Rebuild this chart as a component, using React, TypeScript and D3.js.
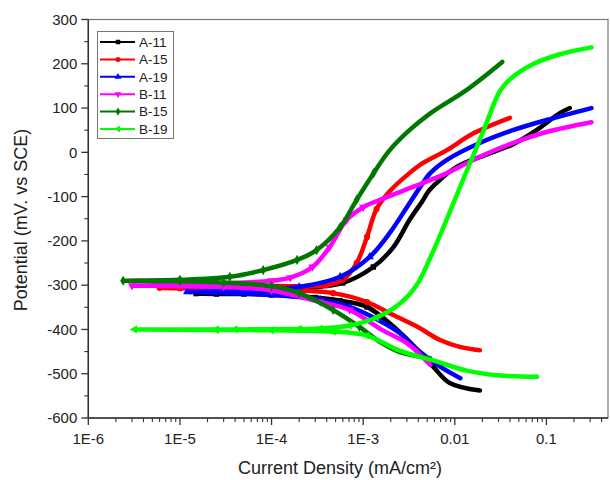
import React from "react";
import * as d3 from "d3";

// ---------- data (current density mA/cm², potential mV vs SCE), scan order ----------
const seriesNames = ["A-11", "A-15", "A-19", "B-11", "B-15", "B-19"];
const seriesColors = ["#000000", "#ff0000", "#0000ff", "#ff00ff", "#007800", "#00ff00"];

const a11I = [0.0188, 0.0088, 0.0058, 0.004, 0.0025, 0.0011, 5.6e-4, 3e-4, 1e-4, 5e-5, 2.5e-5, 1.5e-5, 2.5e-5, 5e-5, 1e-4, 2e-4, 6e-4, 1.29e-3, 2.14e-3, 3.2e-3, 4.5e-3, 5.3e-3, 0.0105, 0.0204, 0.043, 0.078, 0.139, 0.18];
const a11E = [-538, -521, -484, -448, -406, -349, -335, -328, -322, -320, -320, -319, -318, -317, -314, -308, -295, -259, -214, -153, -108, -85, -33, -8, 18, 50, 88, 100];

const a15I = [0.0188, 0.0116, 0.0069, 0.0039, 0.0021, 0.0011, 4.7e-4, 2e-4, 1e-4, 3e-5, 1e-5, 6e-6, 1e-5, 3e-5, 1e-4, 4e-4, 6e-4, 8.5e-4, 1.1e-3, 1.4e-3, 1.95e-3, 3.2e-3, 4.5e-3, 8.2e-3, 0.016, 0.04];
const a15E = [-447, -440, -424, -394, -367, -338, -318, -312, -310, -308, -307, -306, -305, -304, -302, -300, -288, -250, -191, -128, -88, -47, -24, 5, 43, 78];

const a19I = [0.0115, 0.0069, 0.0039, 0.0025, 0.0016, 7.1e-4, 3.4e-4, 1e-4, 4e-5, 2e-5, 1.2e-5, 2e-5, 5e-5, 1e-4, 2e-4, 5.6e-4, 1.18e-3, 1.95e-3, 3e-3, 4.2e-3, 5.4e-3, 8.2e-3, 0.0187, 0.043, 0.1, 0.31];
const a19E = [-510, -484, -446, -408, -383, -349, -333, -322, -318, -316, -315, -314, -312, -309, -304, -281, -236, -182, -124, -78, -47, -17, 21, 50, 73, 100];

const b11I = [0.0054, 0.003, 0.0016, 7.1e-4, 3.4e-4, 1e-4, 3e-5, 1e-5, 3e-6, 1e-5, 3e-5, 1e-4, 1.6e-4, 2.8e-4, 4.3e-4, 6.6e-4, 1e-3, 1.5e-3, 3.5e-3, 8.2e-3, 0.0187, 0.043, 0.1, 0.31];
const b11E = [-480, -431, -401, -356, -338, -312, -304, -302, -301, -299, -296, -290, -283, -259, -214, -153, -124, -108, -78, -47, -10, 21, 46, 68];

const b15I = [0.0054, 0.0025, 0.0016, 9.1e-4, 4.7e-4, 2e-4, 1e-4, 3e-5, 1e-5, 2.4e-6, 1e-5, 3.5e-5, 8.1e-5, 1.9e-4, 3.1e-4, 5.6e-4, 8.5e-4, 1.3e-3, 1.95e-3, 3.2e-3, 5.4e-3, 0.0135, 0.033];
const b15E = [-465, -451, -431, -394, -356, -318, -302, -294, -291, -290, -288, -281, -266, -243, -221, -169, -107, -47, 5, 50, 88, 141, 204];

const b19I = [0.079, 0.031, 0.0135, 0.0058, 0.0025, 1.1e-3, 4.7e-4, 1e-4, 2.5e-5, 3.2e-6, 2.5e-5, 4e-5, 2e-4, 3.4e-4, 7.1e-4, 1.4e-3, 2.5e-3, 3.8e-3, 5.4e-3, 0.0135, 0.0205, 0.031, 0.04, 0.071, 0.138, 0.31];
const b19E = [-507, -504, -493, -470, -448, -414, -405, -402, -401, -400, -400, -400, -399, -398, -391, -373, -342, -301, -238, -42, 48, 138, 165, 199, 221, 237];

const seriesI = [a11I, a15I, a19I, b11I, b15I, b19I];
const seriesE = [a11E, a15E, a19E, b11E, b15E, b19E];

const xTickValues = [1e-6, 1e-5, 1e-4, 1e-3, 0.01, 0.1];
const xTickLabels = ["1E-6", "1E-5", "1E-4", "1E-3", "0.01", "0.1"];
const yTickValues = [-600, -500, -400, -300, -200, -100, 0, 100, 200, 300];

// ---------- layout ----------
const W = 610, H = 480;
const FONT = "'Liberation Sans', Arial, sans-serif";
const x = d3.scaleLog().domain([1e-6, 0.47]).range([88.3, 608]);
const y = d3.scaleLinear().domain([-600, 300]).range([418, 19.5]);

const symbolTypes = [d3.symbolSquare, d3.symbolCircle, d3.symbolTriangle, d3.symbolTriangle, d3.symbolDiamond, d3.symbolTriangle];
const symbolRot = [0, 0, 0, 180, 0, -90];

export default function App() {
  const line = d3
    .line<[number, number]>()
    .x((d) => x(d[0]))
    .y((d) => y(d[1]))
    .curve(d3.curveCatmullRom.alpha(0.5));

  const minorX: number[] = [];
  for (let e = -6; e <= -1; e++) {
    for (let m = 2; m <= 9; m++) {
      const v = m * Math.pow(10, e);
      if (v <= 0.47) minorX.push(v);
    }
  }
  const minorY = d3.range(-550, 300, 100);
  const [x0, x1] = x.range();
  const [yb, yt] = y.range();
  const axisColor = "#333";

  return (
    <svg width={W} height={H} style={{ position: "absolute", left: 0, top: 0, background: "#fff" }}>
      {/* frame */}
      <rect x={x0} y={yt} width={x1 - x0} height={yb - yt} fill="none" stroke="#777" strokeWidth={1.2} />
      <line x1={x0} x2={x0} y1={yt} y2={yb} stroke={axisColor} strokeWidth={1.5} />
      <line x1={x0} x2={x1} y1={yb} y2={yb} stroke={axisColor} strokeWidth={1.5} />

      {/* y ticks */}
      {yTickValues.map((v) => (
        <g key={"yt" + v}>
          <line x1={x0 - 7} x2={x0} y1={y(v)} y2={y(v)} stroke={axisColor} strokeWidth={1.3} />
          <text x={x0 - 11} y={y(v)} dy="0.35em" textAnchor="end" fontFamily={FONT} fontSize={15} fill="#222">
            {v}
          </text>
        </g>
      ))}
      {minorY.map((v) => (
        <line key={"ym" + v} x1={x0 - 4} x2={x0} y1={y(v)} y2={y(v)} stroke={axisColor} strokeWidth={1.1} />
      ))}

      {/* x ticks */}
      {xTickValues.map((v, i) => (
        <g key={"xt" + v}>
          <line x1={x(v)} x2={x(v)} y1={yb} y2={yb + 7} stroke={axisColor} strokeWidth={1.3} />
          <text x={x(v)} y={yb + 21} dy="0.35em" textAnchor="middle" fontFamily={FONT} fontSize={15} fill="#222">
            {xTickLabels[i]}
          </text>
        </g>
      ))}
      {minorX.map((v) => (
        <line key={"xm" + v} x1={x(v)} x2={x(v)} y1={yb} y2={yb + 4} stroke={axisColor} strokeWidth={1.1} />
      ))}

      {/* axis titles */}
      <text x={340} y={468} dy="0.35em" textAnchor="middle" fontFamily={FONT} fontSize={18} fill="#222">
        Current Density (mA/cm²)
      </text>
      <text
        transform={`translate(21,220) rotate(-90)`}
        dy="0.35em"
        textAnchor="middle"
        fontFamily={FONT}
        fontSize={18}
        fill="#222"
      >
        Potential (mV. vs SCE)
      </text>

      {/* curves */}
      {seriesNames.map((name, si) => {
        const pts: [number, number][] = seriesI[si].map((v, k) => [v, seriesE[si][k]]);
        const sym = d3.symbol().type(symbolTypes[si]).size(30)();
        return (
          <g key={name}>
            <path d={line(pts) || ""} fill="none" stroke={seriesColors[si]} strokeWidth={4.5} strokeLinejoin="round" strokeLinecap="round" />
            {pts
              .filter((p) => p[0] < 1.5e-3)
              .map((p, k) => (
                <path
                  key={k}
                  d={sym || ""}
                  transform={`translate(${x(p[0])},${y(p[1])}) rotate(${symbolRot[si]})`}
                  fill={seriesColors[si]}
                />
              ))}
          </g>
        );
      })}

      {/* legend */}
      <rect x={97.5} y={31.5} width={76} height={107} fill="#fff" stroke="#777" strokeWidth={1} />
      {seriesNames.map((name, si) => {
        const ly = 42 + si * 17.4;
        const sym = d3.symbol().type(symbolTypes[si]).size(20)();
        return (
          <g key={"lg" + name}>
            <line x1={100} x2={135} y1={ly} y2={ly} stroke={seriesColors[si]} strokeWidth={2} />
            <path d={sym || ""} transform={`translate(118,${ly}) rotate(${symbolRot[si]})`} fill={seriesColors[si]} />
            <text x={139} y={ly} dy="0.35em" fontFamily={FONT} fontSize={13.5} fill="#222">
              {name}
            </text>
          </g>
        );
      })}
    </svg>
  );
}
